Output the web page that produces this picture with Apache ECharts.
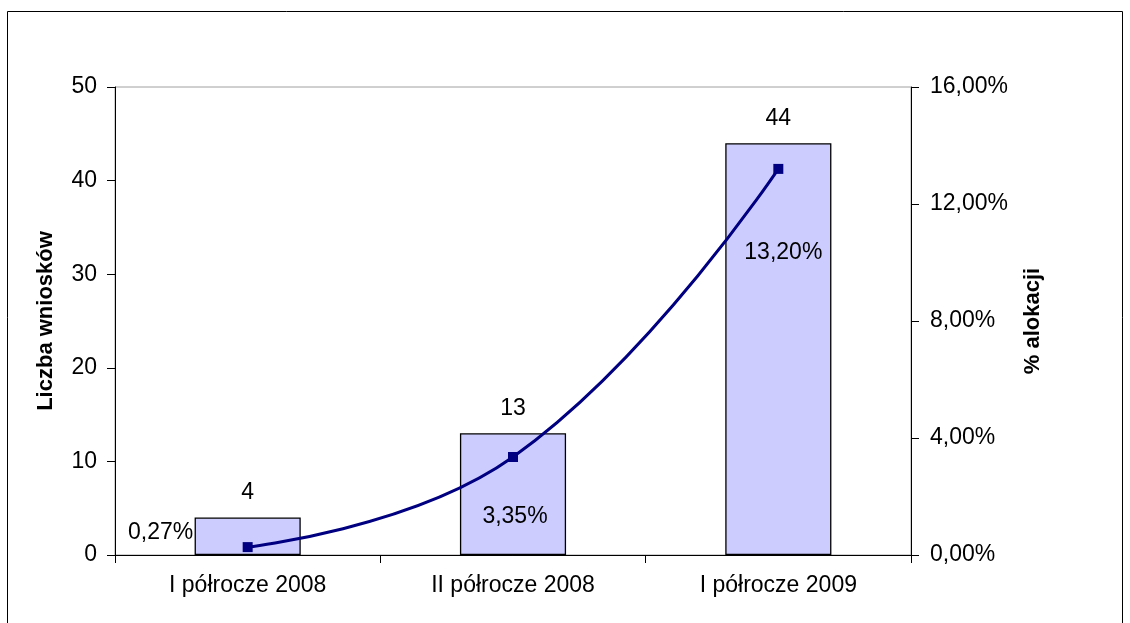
<!DOCTYPE html>
<html>
<head>
<meta charset="utf-8">
<script src="https://cdn.jsdelivr.net/npm/echarts@6/dist/echarts.min.js"></script>
<style>
html,body{margin:0;padding:0;background:#fff;}
#chart{width:1130px;height:623px;}
</style>
</head>
<body>
<div id="chart"></div>
<script>
const categories = ['I półrocze 2008', 'II półrocze 2008', 'I półrocze 2009'];
const wnioski = [4, 13, 44];
const alokacja = [0.27, 3.35, 13.20];
const leftAxisName = 'Liczba wniosków';
const rightAxisName = '% alokacji';

const FONT = '"Liberation Sans", Arial, sans-serif';
const FS = 23;
const fmtPct = v => v.toFixed(2).replace('.', ',') + '%';

const lineLabelOffsets = [[-87, -14], [2, 60], [5, 84]];

const chart = echarts.init(document.getElementById('chart'));
chart.setOption({
  animation: false,
  backgroundColor: '#fff',
  textStyle: { fontFamily: FONT },
  graphic: [{
    type: 'rect',
    shape: { x: 7.5, y: 11.5, width: 1115, height: 700 },
    style: { fill: 'none', stroke: '#000', lineWidth: 1 },
    silent: true
  }],
  grid: {
    left: 115, right: 219, top: 87, bottom: 68,
    show: true, borderColor: '#a0a0a0', borderWidth: 1
  },
  xAxis: {
    type: 'category',
    data: categories,
    boundaryGap: true,
    axisLine: { lineStyle: { color: '#000', width: 1 } },
    axisTick: { show: true, length: 8, lineStyle: { color: '#000' } },
    axisLabel: { color: '#000', fontSize: FS, fontFamily: FONT, margin: 19 }
  },
  yAxis: [{
    type: 'value',
    min: 0, max: 50, interval: 10,
    name: leftAxisName,
    nameLocation: 'middle',
    nameGap: 58,
    nameRotate: 90,
    nameTextStyle: { color: '#000', fontSize: 22, fontWeight: 'bold', fontFamily: FONT },
    axisLine: { show: true, lineStyle: { color: '#000' } },
    axisTick: { show: true, length: 8, lineStyle: { color: '#000' } },
    axisLabel: { color: '#000', fontSize: FS, fontFamily: FONT, margin: 18 },
    splitLine: { show: false }
  }, {
    type: 'value',
    min: 0, max: 16, interval: 4,
    name: rightAxisName,
    nameLocation: 'middle',
    nameGap: 111,
    nameRotate: 90,
    nameTextStyle: { color: '#000', fontSize: 22, fontWeight: 'bold', fontFamily: FONT },
    axisLine: { show: true, lineStyle: { color: '#000' } },
    axisTick: { show: true, length: 8, lineStyle: { color: '#000' } },
    axisLabel: { color: '#000', fontSize: FS, fontFamily: FONT, margin: 19, formatter: fmtPct },
    splitLine: { show: false }
  }],
  series: [{
    type: 'bar',
    yAxisIndex: 0,
    data: wnioski,
    barWidth: '40%',
    itemStyle: { color: '#CCCCFF', borderColor: '#000', borderWidth: 1.3 },
    label: { show: true, position: 'top', distance: 13, color: '#000', fontSize: FS, fontFamily: FONT }
  }, {
    type: 'line',
    yAxisIndex: 1,
    smooth: 0.45,
    data: alokacja.map((v, i) => ({
      value: v,
      label: { offset: lineLabelOffsets[i] }
    })),
    symbol: 'rect',
    symbolSize: 10,
    lineStyle: { color: '#000080', width: 3 },
    itemStyle: { color: '#000080' },
    label: {
      show: true, position: 'inside', color: '#000', fontSize: FS, fontFamily: FONT,
      formatter: p => fmtPct(p.value)
    },
    z: 5
  }]
});
</script>
</body>
</html>
